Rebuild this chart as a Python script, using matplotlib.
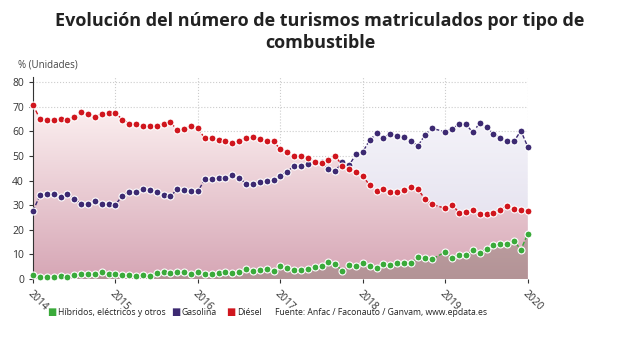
import numpy as np
import pandas as pd
import matplotlib
matplotlib.use("Agg")
import matplotlib.pyplot as plt
from matplotlib.colors import LinearSegmentedColormap

plt.rcParams['font.family'] = ['Open Sans', 'DejaVu Sans']

# Meses (falta diciembre de 2018 en la serie original)
fechas = pd.date_range('2014-01-01', '2020-01-01', freq='MS').drop(pd.Timestamp('2018-12-01'))

diesel = [70.8, 65.1, 64.7, 64.7, 65.1, 64.7, 65.9, 68.0, 67.2, 66.0, 67.1, 67.6,
          67.6, 64.8, 63.2, 62.9, 62.2, 62.2, 62.4, 63.2, 63.8, 60.5, 61.1, 62.1,
          61.3, 57.2, 57.2, 56.5, 56.3, 55.2, 56.3, 57.2, 57.6, 56.9, 56.3, 56.1,
          52.7, 51.8, 49.9, 49.9, 49.1, 47.7, 47.2, 48.4, 50.2, 46.0, 44.7, 43.7,
          41.8, 38.2, 35.8, 36.6, 35.2, 35.5, 36.0, 37.4, 36.6, 32.7, 30.5,
          28.7, 30.2, 27.0, 27.2, 28.2, 26.4, 26.4, 27.0, 28.1, 29.6, 28.3, 27.9,
          27.7]
gasolina = [27.7, 34.0, 34.4, 34.4, 33.5, 34.4, 32.7, 30.4, 30.4, 31.7, 30.4, 30.4,
            30.3, 33.8, 35.4, 35.5, 36.5, 36.4, 35.3, 34.3, 33.6, 36.6, 36.1, 35.8,
            35.7, 40.5, 40.5, 41.2, 41.2, 42.3, 41.1, 38.8, 38.8, 39.6, 39.9, 40.4,
            42.0, 43.6, 46.1, 46.1, 46.6, 47.4, 47.5, 44.7, 43.9, 47.6, 46.3, 50.7,
            51.8, 56.5, 59.2, 57.5, 59.0, 58.0, 57.6, 56.3, 54.1, 58.4, 61.3,
            59.9, 61.1, 63.0, 63.0, 59.6, 63.4, 61.7, 59.1, 57.2, 56.0, 56.0, 60.3,
            53.8]
hibridos = [1.6, 0.9, 0.9, 0.9, 1.4, 0.9, 1.5, 2.0, 2.2, 2.2, 2.8, 2.2,
            2.2, 1.5, 1.5, 1.4, 1.5, 1.4, 2.3, 2.7, 2.6, 2.8, 2.7, 2.0,
            3.0, 2.2, 2.2, 2.6, 2.7, 2.3, 2.8, 3.9, 3.4, 3.5, 3.9, 3.4,
            5.3, 4.4, 3.8, 3.7, 4.2, 4.9, 5.3, 6.9, 6.1, 3.3, 5.8, 5.3,
            6.5, 5.4, 4.6, 6.0, 5.8, 6.6, 6.4, 6.4, 9.1, 8.7, 8.0,
            11.0, 8.7, 9.9, 9.6, 11.8, 10.6, 12.1, 13.7, 14.4, 14.2, 15.6, 11.9,
            18.4]
anios = [2014, 2015, 2016, 2017, 2018, 2019, 2020]
nombres = ['Híbridos, eléctricos y otros', 'Gasolina', 'Diésel']
fuente = 'Fuente: Anfac / Faconauto / Ganvam, www.epdata.es'

x = fechas.year + (fechas.month - 1) / 12.0

c_hib = '#3aaa3a'
c_gas = '#3d2a72'
c_die = '#d0161e'

fig = plt.figure(figsize=(6.4, 3.6), dpi=100)
ax = fig.add_axes([0.0516, 0.225, 0.773, 0.56])


def relleno(ax, x, y, arriba, abajo, ytop, z, alpha):
    poly = ax.fill_between(x, y, 0, color='none', lw=0)
    cmap = LinearSegmentedColormap.from_list('g', [abajo, arriba])
    grad = np.linspace(0, 1, 256).reshape(-1, 1)
    im = ax.imshow(grad, cmap=cmap, extent=[x.min(), x.max(), 0, ytop],
                   origin='lower', aspect='auto', zorder=z, alpha=alpha)
    im.set_clip_path(poly.get_paths()[0], transform=ax.transData)


relleno(ax, x, np.array(gasolina), '#f4f3f9', '#dedaea', 64, 1, 1.0)
relleno(ax, x, np.array(diesel), '#fdf2f2', '#d6a6b5', 72, 2, 1.0)
relleno(ax, x, np.array(hibridos), '#bc9ea0', '#b39396', 19, 3, 1.0)

for serie, col, z in [(hibridos, c_hib, 5), (gasolina, c_gas, 6), (diesel, c_die, 7)]:
    ax.plot(x, serie, color=col, lw=1, ls=(0, (3, 1.5)), zorder=z, clip_on=False)
    ax.plot(x, serie, ls='none', marker='o', ms=5, mfc=col, mec='white', mew=0.8,
            zorder=z, clip_on=False)

ax.set_xlim(2014, 2020)
ax.set_ylim(0, 82)
ax.set_yticks(range(0, 81, 10))
ax.set_xticks(anios)
ax.set_xticklabels([str(a) for a in anios], rotation=-45, ha='left', va='top',
                   rotation_mode='anchor')
ax.grid(True, color='#cccccc', ls=':', lw=0.8)
ax.set_axisbelow(True)
for s in ['top', 'right', 'bottom']:
    ax.spines[s].set_visible(False)
ax.spines['left'].set_color('#333333')
ax.tick_params(axis='both', labelsize=7.5, colors='#333333', length=3)
ax.tick_params(axis='x', pad=4)
ax.set_facecolor('white')

fig.text(0.5, 0.968, 'Evolución del número de turismos matriculados por tipo de\ncombustible',
         ha='center', va='top', fontsize=13, fontweight='bold', color='#222222',
         linespacing=1.3)
fig.text(0.028, 0.805, '% (Unidades)', fontsize=7, color='#444444', va='bottom')

# leyenda manual
ly = 0.133
for xm, xt, col, nom in [(0.081, 0.090, c_hib, nombres[0]),
                         (0.275, 0.284, c_gas, nombres[1]),
                         (0.361, 0.370, c_die, nombres[2])]:
    fig.text(xm, ly, '■', color=col, fontsize=7, ha='center', va='center',
             family='DejaVu Sans')
    fig.text(xt, ly, nom, fontsize=6.2, color='#222222', va='center')
fig.text(0.43, ly, fuente, fontsize=6.2, color='#222222', va='center')

fig.savefig('out.png', dpi=100)
